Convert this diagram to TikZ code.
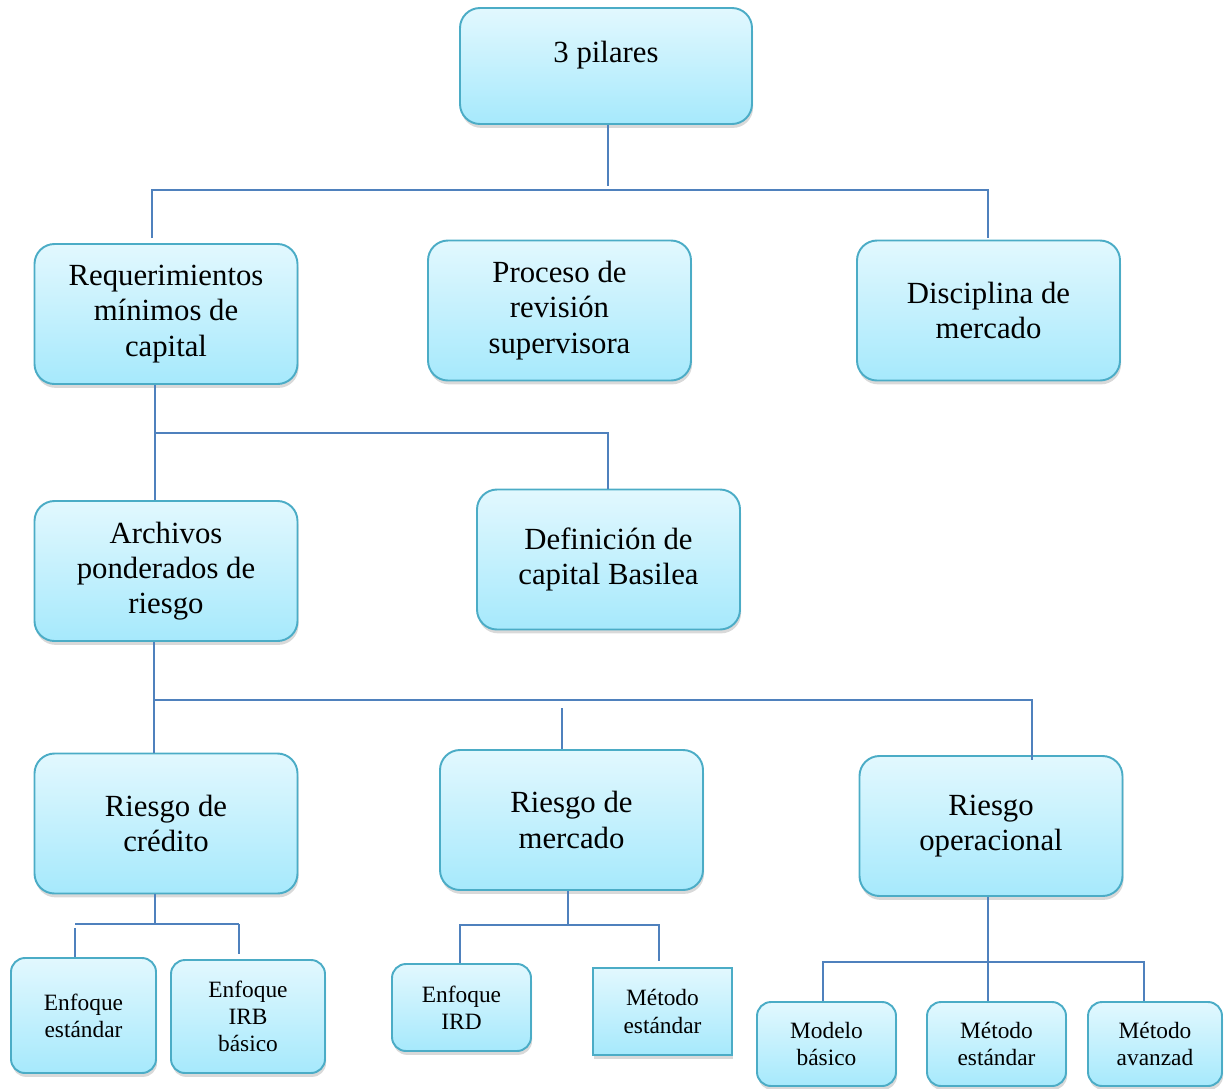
\documentclass[tikz,border=0pt]{standalone}
\usepackage{fontspec}
\setmainfont{Liberation Serif}
\usepackage{tikz}
\usetikzlibrary{positioning,calc,shadows}
\definecolor{boxtop}{HTML}{E2F8FE}
\definecolor{boxbot}{HTML}{A6E9FC}
\definecolor{boxedge}{HTML}{4BACC6}
\definecolor{linkblue}{HTML}{4F81BD}

\begin{document}
\begin{tikzpicture}[
  bigbox/.style={rectangle,rounded corners=0.4cm,draw=boxedge,line width=1.1pt,
                 top color=boxtop,bottom color=boxbot,
                 drop shadow={opacity=0.3,shadow xshift=0.6pt,shadow yshift=-2.2pt},
                 minimum width=5.26cm,minimum height=2.8cm,align=center,
                 font=\fontsize{17.5}{20}\selectfont},
  smallbox/.style={bigbox,rounded corners=0.28cm,minimum width=2.78cm,
                   minimum height=1.74cm,font=\fontsize{13.3}{15.5}\selectfont},
  link/.style={draw=linkblue,line width=0.85pt}
]
  \useasboundingbox (0,0) rectangle (24.6,-21.76);

  % top level
  \node[bigbox,minimum width=5.84cm,minimum height=2.32cm,text depth=0.55cm]
       (pilares) at (12.12,-1.32) {3 pilares};
  \node[bigbox] (req)  at (3.32,-6.28)  {Requerimientos\\mínimos de\\capital};
  \node[bigbox] (proc) at (11.19,-6.21) {Proceso de\\revisión\\supervisora};
  \node[bigbox] (disc) at (19.77,-6.21) {Disciplina de\\mercado};
  \node[bigbox] (arch) at (3.32,-11.42) {Archivos\\ponderados de\\riesgo};
  \node[bigbox] (defi) at (12.17,-11.19) {Definición de\\capital Basilea};
  \node[bigbox] (cred) at (3.32,-16.47) {Riesgo de\\crédito};
  \node[bigbox] (merc) at (11.43,-16.4) {Riesgo de\\mercado};
  \node[bigbox] (oper) at (19.82,-16.52) {Riesgo\\operacional};

  % bottom level
  \node[smallbox,minimum width=2.9cm,minimum height=2.3cm]
       (enfe) at (1.67,-20.31) {Enfoque\\estándar};
  \node[smallbox,minimum width=3.08cm,minimum height=2.26cm]
       (enfi) at (4.96,-20.33) {Enfoque\\IRB\\básico};
  \node[smallbox] (ird)  at (9.23,-20.15)  {Enfoque\\IRD};
  \node[smallbox,sharp corners] (mest) at (13.25,-20.23) {Método\\estándar};
  \node[smallbox,minimum height=1.68cm] (mbas)  at (16.53,-20.88) {Modelo\\básico};
  \node[smallbox,minimum height=1.68cm] (mesto) at (19.93,-20.88) {Método\\estándar};
  \node[smallbox,minimum width=2.68cm,minimum height=1.68cm]
       (mava) at (23.1,-20.88) {Método\\avanzad};

  % junctions
  \coordinate (j1) at (12.16,-3.72);
  \coordinate (j1l) at (3.04,-3.8);
  \coordinate (j1r) at (19.76,-3.8);
  \coordinate (j2) at (3.1,-8.66);
  \coordinate (j2r) at (12.16,-8.66);
  \coordinate (j3) at (3.08,-14.0);
  \coordinate (j3r) at (20.64,-14.0);
  \coordinate (j4) at (3.1,-18.48);
  \coordinate (j5) at (11.36,-18.5);
  \coordinate (j6) at (19.76,-19.24);

  % connectors
  \draw[link] (pilares.south -| j1) -- (j1);
  \draw[link] (j1l |- req.north) ++(0,0.1) -- (j1l) -- (j1r) -- ++(0,-0.96);
  \draw[link] (req.south -| j2) -- (arch.north -| j2);
  \draw[link] (j2) -- (j2r) -- (defi.north -| j2r);
  \draw[link] (arch.south -| j3) -- (cred.north -| j3);
  \draw[link] (j3) -- (j3r) -- ++(0,-1.2);
  \draw[link] (11.24,-14.16) -- (merc.north -| 11.24,0);
  \draw[link] (cred.south -| j4) -- (j4);
  \draw[link] (1.5,-18.48) -- (4.78,-18.48);
  \draw[link] (1.5,-18.56) -- (enfe.north -| 1.5,0);
  \draw[link] (4.78,-18.48) -- (4.78,-19.08);
  \draw[link] (merc.south -| j5) -- (j5);
  \draw[link] (ird.north -| 9.2,0) -- (9.2,-18.5) -- (13.18,-18.5) -- (13.18,-19.22);
  \draw[link] (oper.south -| j6) -- (mesto.north -| j6);
  \draw[link] (mbas.north -| 16.46,0) -- (16.46,-19.24) -- (22.88,-19.24)
              -- (mava.north -| 22.88,0);
\end{tikzpicture}
\end{document}
